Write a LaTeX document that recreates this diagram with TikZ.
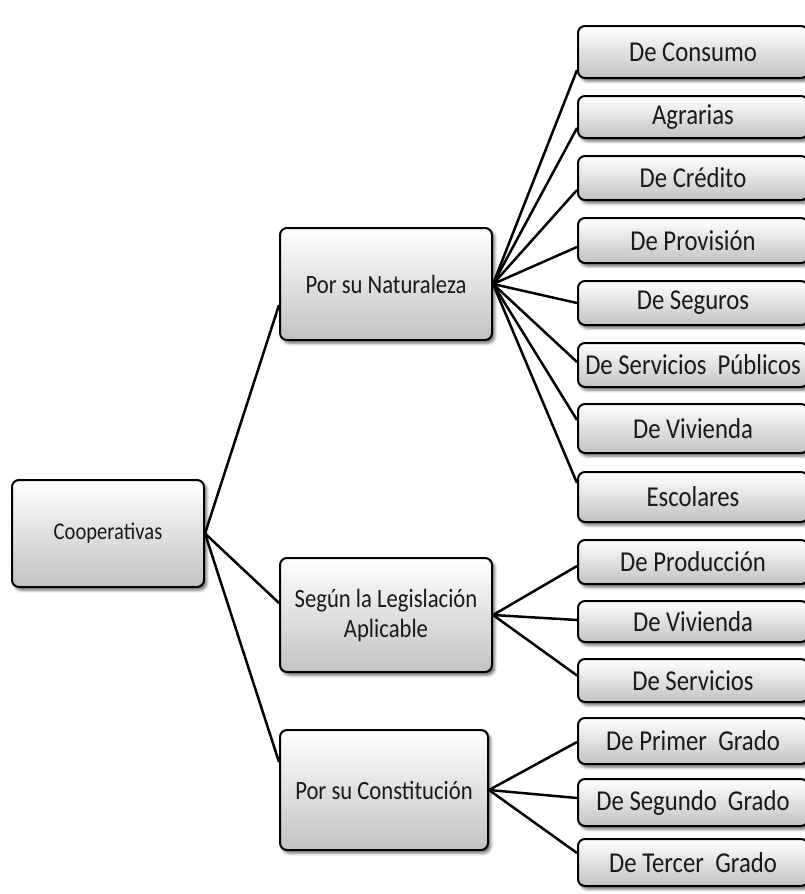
\documentclass[tikz,border=0pt]{standalone}
\usepackage{fontspec}
\setmainfont{Carlito}
\usetikzlibrary{shadows.blur,calc}
\newcommand{\stx}[1]{\scalebox{1.03}[1.2]{#1}}
\begin{document}
\begin{tikzpicture}[x=1pt,y=-1pt,
  box/.style={draw=black, line width=2pt, rounded corners=7pt, top color=white, bottom color=black!24,
    inner sep=0pt, align=center, text=black!90,
    blur shadow={shadow xshift=2.5pt, shadow yshift=-3pt, shadow blur radius=3pt, shadow opacity=60}},
  midbox/.style={box, font=\fontsize{22}{30}\selectfont},
  leaf/.style={box, minimum width=230pt, font=\fontsize{24}{28}\selectfont},
  conn/.style={line width=2.5pt, black}]
\useasboundingbox (0,0) rectangle (804,894);

\node[box, minimum width=192pt, minimum height=107pt, font=\fontsize{20}{24}\selectfont] (coop) at (108,533.5) {\stx{Cooperativas}};

\node[midbox, minimum width=212pt, minimum height=112pt] (nat) at (386,284) {\stx{Por su Naturaleza}};
\node[midbox, minimum width=212pt, minimum height=114pt] (leg) at (386,615) {\stx{Según la Legislación}\\\stx{Aplicable}};
\node[midbox, minimum width=208pt, minimum height=120pt] (con) at (384,790) {\stx{Por su Constitución}};

\node[leaf, minimum height=52pt] (r1) at (693,52) {\stx{De Consumo}};
\node[leaf, minimum height=42pt] (r2) at (693,117) {\stx{Agrarias}};
\node[leaf, minimum height=44pt] (r3) at (693,178) {\stx{De Crédito}};
\node[leaf, minimum height=45pt] (r4) at (693,240.5) {\stx{De Provisión}};
\node[leaf, minimum height=44pt] (r5) at (693,303) {\stx{De Seguros}};
\node[leaf, minimum height=44pt] (r6) at (693,365) {\stx{De Servicios~ Públicos}};
\node[leaf, minimum height=49pt] (r7) at (693,428.5) {\stx{De Vivienda}};
\node[leaf, minimum height=50pt] (r8) at (693,497) {\stx{Escolares}};
\node[leaf, minimum height=44pt] (r9) at (693,562) {\stx{De Producción}};
\node[leaf, minimum height=41pt] (r10) at (693,621.5) {\stx{De Vivienda}};
\node[leaf, minimum height=43pt] (r11) at (693,680.5) {\stx{De Servicios}};
\node[leaf, minimum height=46pt] (r12) at (693,741) {\stx{De Primer~ Grado}};
\node[leaf, minimum height=47pt] (r13) at (693,802.5) {\stx{De Segundo~ Grado}};
\node[leaf, minimum height=47pt] (r14) at (693,862.5) {\stx{De Tercer~ Grado}};

\draw[conn] (coop.east) -- ([yshift=-21pt]nat.west);
\draw[conn] (coop.east) -- ([yshift=12pt]leg.west);
\draw[conn] (coop.east) -- ([yshift=28pt]con.west);

\draw[conn] (nat.east) -- ([yshift=-18pt]r1.west);
\draw[conn] (nat.east) -- ([yshift=-11pt]r2.west);
\draw[conn] (nat.east) -- ([yshift=-12pt]r3.west);
\draw[conn] (nat.east) -- ([yshift=-6.5pt]r4.west);
\draw[conn] (nat.east) -- (r5.west);
\draw[conn] (nat.east) -- ([yshift=3pt]r6.west);
\draw[conn] (nat.east) -- ([yshift=8.5pt]r7.west);
\draw[conn] (nat.east) -- ([yshift=14pt]r8.west);

\draw[conn] (leg.east) -- ([yshift=-4pt]r9.west);
\draw[conn] (leg.east) -- ([yshift=1.5pt]r10.west);
\draw[conn] (leg.east) -- ([yshift=5pt]r11.west);

\draw[conn] (con.east) -- ([yshift=-1pt]r12.west);
\draw[conn] (con.east) -- ([yshift=4.5pt]r13.west);
\draw[conn] (con.east) -- ([yshift=9.5pt]r14.west);
\end{tikzpicture}
\end{document}
